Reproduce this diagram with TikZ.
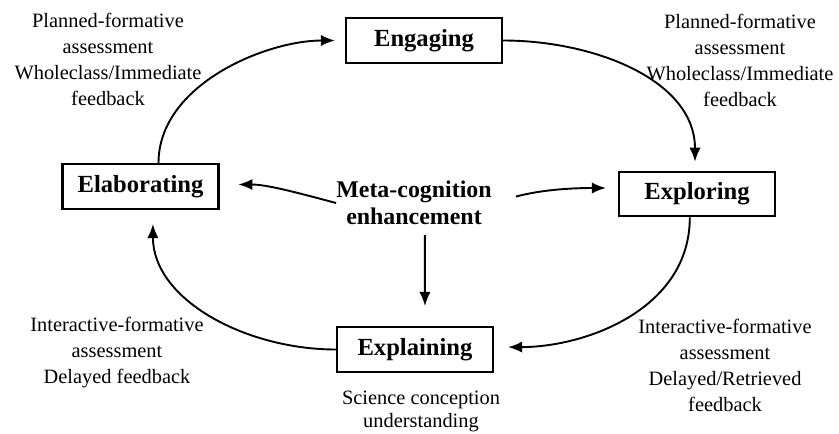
\documentclass[tikz,border=0pt]{standalone}
\usepackage{fontspec}
\setmainfont{Liberation Serif}
\usetikzlibrary{positioning,arrows.meta}

\begin{document}
\begin{tikzpicture}[x=0.025cm,y=-0.025cm,
        stage/.style={draw,line width=1.5pt,minimum width=3.9cm,minimum height=1.12cm,font=\fontsize{17.5}{19}\selectfont\bfseries},
        note/.style={align=center,font=\fontsize{14.5}{18.5}\selectfont},
        flow/.style={-{Latex[length=10pt,width=8pt]},line width=1.35pt}]
        \useasboundingbox (0,0) rectangle (839,433);

        \node[stage] (engage) at (424,40.5) {Engaging};
        \node[stage] (explore) at (697,194) {Exploring};
        \node[stage] (elab) at (140.5,186.5) {Elaborating};
        \node[stage] (explain) at (415,349.5) {Explaining};
        \node[align=center,inner sep=0pt,font=\fontsize{17}{19.2}\selectfont\bfseries] (meta) at (414,203) {Meta-cognition\\enhancement};

        \node[note] (tl) at (108,59) {Planned-formative\\assessment\\Wholeclass/Immediate\\feedback};
        \node[note] (tr) at (740,60) {Planned-formative\\assessment\\Wholeclass/Immediate\\feedback};
        \node[note] (bl) at (117,353) {Interactive-formative\\assessment\\Delayed feedback};
        \node[note] (br) at (725,365.5) {Interactive-formative\\assessment\\Delayed/Retrieved\\feedback};
        \node[note,font=\fontsize{14.5}{16.4}\selectfont] (sci) at (421,411.5) {Science conception\\understanding};

        % the cycle
        \draw[flow,shorten >=0.25cm] ([xshift=0.45cm]elab.north) to[out=90,in=180,looseness=0.9] (engage.west);
        \draw[flow,shorten >=0.22cm] (engage.east) to[out=0,in=90] ([xshift=-0.05cm]explore.north);
        \draw[flow,shorten >=0.35cm] ([xshift=-0.18cm]explore.south) to[out=-90,in=0] ([yshift=0.06cm]explain.east);
        \draw[flow,shorten >=0.35cm] (explain.west) to[out=180,in=-90] ([xshift=0.31cm]elab.south);

        % meta-cognition
        \draw[flow,shorten >=0.47cm] (meta.west) to[out=165,in=0] ([yshift=0.05cm]elab.east);
        \draw[flow,shorten <=0.62cm,shorten >=0.3cm] (meta.east) to[out=15,in=180] ([yshift=0.15cm]explore.west);
        \draw[flow,shorten <=0.25cm,shorten >=0.5cm] ([xshift=0.27cm]meta.south) -- ([xshift=0.25cm]explain.north);
    \end{tikzpicture}
\end{document}
